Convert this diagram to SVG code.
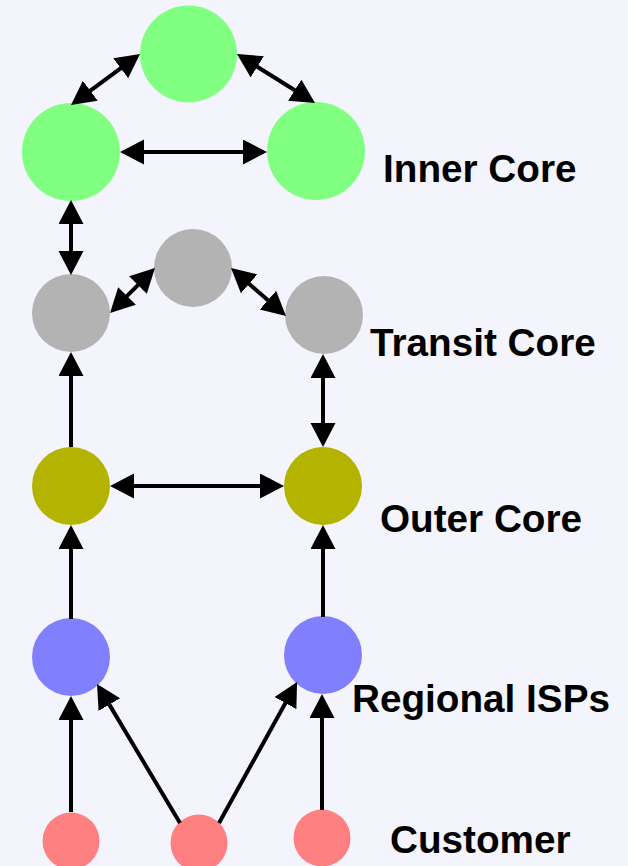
<svg xmlns="http://www.w3.org/2000/svg" width="628" height="866" viewBox="0 0 628 866">
<defs>
<marker id="ah" markerUnits="userSpaceOnUse" markerWidth="26" markerHeight="26" refX="2" refY="12.5" orient="auto-start-reverse" viewBox="0 0 26 26">
<path d="M0,0 L24,12.5 L0,25 z" fill="#000"/>
</marker>
<style>
.c line{stroke:#000;stroke-width:4;fill:none}
.lbl{font-family:"Liberation Sans",Arial,sans-serif;font-weight:bold;font-size:38.7px;fill:#000}
.g{fill:#80ff80}.gr{fill:#b3b3b3}.ol{fill:#b3b300}.bl{fill:#8080ff}.pk{fill:#ff8080}
</style>
</defs>
<rect width="628" height="866" fill="#f4f4fd"/>
<g id="inner-top"><circle class="g" cx="188.5" cy="54" r="48.5"/></g>
<g id="inner-left"><circle class="g" cx="71" cy="152" r="49"/></g>
<g id="inner-right"><circle class="g" cx="316" cy="151" r="49"/></g>
<g id="transit-left"><circle class="gr" cx="71" cy="313" r="39"/></g>
<g id="transit-mid"><circle class="gr" cx="193" cy="268" r="39"/></g>
<g id="transit-right"><circle class="gr" cx="324" cy="315" r="39"/></g>
<g id="outer-left"><circle class="ol" cx="71" cy="486" r="39"/></g>
<g id="outer-right"><circle class="ol" cx="323" cy="486" r="39"/></g>
<g id="regional-left"><circle class="bl" cx="71" cy="657" r="39"/></g>
<g id="regional-right"><circle class="bl" cx="323" cy="655" r="39"/></g>
<g id="customer-left"><circle class="pk" cx="71" cy="841" r="28.5"/></g>
<g id="customer-mid"><circle class="pk" cx="199" cy="843" r="28.5"/></g>
<g id="customer-right"><circle class="pk" cx="322" cy="838" r="28.5"/></g>
<g id="connectors" class="c">
<line x1="88.7" y1="91.9" x2="122.3" y2="67.1" marker-start="url(#ah)" marker-end="url(#ah)"/>
<line x1="255.6" y1="65.7" x2="296.4" y2="91.3" marker-start="url(#ah)" marker-end="url(#ah)"/>
<line x1="142" y1="152" x2="245" y2="152" marker-start="url(#ah)" marker-end="url(#ah)"/>
<line x1="71" y1="222" x2="71" y2="253" marker-start="url(#ah)" marker-end="url(#ah)"/>
<line x1="125.6" y1="297.4" x2="139.4" y2="283.6" marker-start="url(#ah)" marker-end="url(#ah)"/>
<line x1="247.6" y1="282.5" x2="269.4" y2="301.5" marker-start="url(#ah)" marker-end="url(#ah)"/>
<line x1="71" y1="447" x2="71" y2="374" marker-end="url(#ah)"/>
<line x1="323" y1="376" x2="323" y2="425" marker-start="url(#ah)" marker-end="url(#ah)"/>
<line x1="132" y1="486" x2="262" y2="486" marker-start="url(#ah)" marker-end="url(#ah)"/>
<line x1="71" y1="619" x2="71" y2="547" marker-end="url(#ah)"/>
<line x1="323" y1="617" x2="323" y2="547" marker-end="url(#ah)"/>
<line x1="71" y1="812" x2="71" y2="718" marker-end="url(#ah)"/>
<line x1="180" y1="823" x2="108.3" y2="702.9" marker-end="url(#ah)"/>
<line x1="219" y1="823" x2="286.4" y2="701.3" marker-end="url(#ah)"/>
<line x1="322" y1="810" x2="322" y2="716" marker-end="url(#ah)"/>
</g>
<g id="labels">
<text class="lbl" x="383" y="182">Inner Core</text>
<text class="lbl" x="370" y="356">Transit Core</text>
<text class="lbl" x="380" y="532">Outer Core</text>
<text class="lbl" x="352" y="712">Regional ISPs</text>
<text class="lbl" x="390" y="853">Customer</text>
</g>
</svg>
